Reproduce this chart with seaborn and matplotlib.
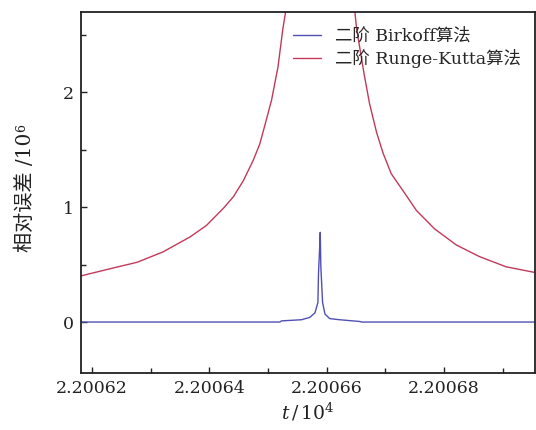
import numpy as np
import pandas as pd
import matplotlib
matplotlib.use('Agg')
import matplotlib.pyplot as plt
import seaborn as sns
from matplotlib.ticker import MultipleLocator

# %% 数据 (t / 10^4, 相对误差 / 10^6)
rk_t = [2.2006180, 2.2006236, 2.2006277, 2.2006321, 2.2006367, 2.2006395,
        2.2006424, 2.2006441, 2.2006458, 2.2006475, 2.2006486, 2.2006494,
        2.2006506, 2.2006517, 2.2006525, 2.2006530, 2.2006545, 2.2006590,
        2.2006636, 2.2006648, 2.2006651, 2.2006664, 2.2006673, 2.2006685,
        2.2006696, 2.2006710, 2.2006733, 2.2006753, 2.2006784, 2.2006821,
        2.2006860, 2.2006906, 2.2006956]
rk_err = [0.40, 0.47, 0.52, 0.61, 0.74, 0.84,
          0.99, 1.09, 1.23, 1.41, 1.55, 1.70,
          1.93, 2.22, 2.54, 2.70, 3.60, 8.00,
          3.60, 2.70, 2.55, 2.15, 1.90, 1.65,
          1.47, 1.29, 1.12, 0.97, 0.81, 0.67,
          0.57, 0.48, 0.43]

bk_t = [2.2006180, 2.2006520, 2.2006523, 2.2006557, 2.2006571, 2.2006580,
        2.2006585, 2.2006586, 2.2006588, 2.2006589, 2.2006590, 2.2006593,
        2.2006597, 2.2006605, 2.2006622, 2.2006656, 2.2006660, 2.2006956]
bk_err = [0.0, 0.0, 0.01, 0.02, 0.04, 0.08,
          0.17, 0.42, 0.65, 0.78, 0.48, 0.17,
          0.07, 0.03, 0.02, 0.005, 0.0, 0.0]

x_ticks = [2.20062, 2.20064, 2.20066, 2.20068]
x_ticklabels = ['2.20062', '2.20064', '2.20066', '2.20068']
y_ticks = [0, 1, 2]

labels = ['二阶 Birkoff算法', '二阶 Runge-Kutta算法']

# %% 样式
sns.set_style('ticks')
plt.rcParams['font.family'] = ['DejaVu Serif', 'Noto Sans CJK SC']
plt.rcParams['mathtext.fontset'] = 'dejavuserif'
plt.rcParams['axes.unicode_minus'] = False

df = pd.concat([
    pd.DataFrame({'t': bk_t, 'err': bk_err, 'method': labels[0]}),
    pd.DataFrame({'t': rk_t, 'err': rk_err, 'method': labels[1]}),
])

fig = plt.figure(figsize=(5.36, 4.30), dpi=100)
ax = fig.add_axes([0.151, 0.1326, 0.847, 0.8395])

sns.lineplot(data=df, x='t', y='err', hue='method', sort=False,
             palette=['#5050b4', '#c23a5a'], linewidth=1.0, ax=ax, estimator=None)

ax.set_xlim(2.2006181, 2.2006955)
ax.set_ylim(-0.443, 2.696)
ax.set_xticks(x_ticks)
ax.set_xticklabels(x_ticklabels)
ax.xaxis.set_minor_locator(MultipleLocator(0.00001))
ax.set_yticks(y_ticks)
ax.set_yticklabels([str(v) for v in y_ticks])
ax.yaxis.set_minor_locator(MultipleLocator(0.5))
ax.tick_params(which='both', direction='in', labelsize=12.5, width=1, colors='#222222')
ax.tick_params(which='major', length=4, pad=5)
ax.tick_params(which='minor', length=3.5)
for s in ax.spines.values():
    s.set_linewidth(1.3)
    s.set_color('#222222')

ax.set_xlabel('$t\\,/\\,10^4$', fontsize=13.5, labelpad=3, color='#222222')
ylab = ax.set_ylabel('相对误差 /10', fontsize=14.5, labelpad=20, color='#222222')

leg = ax.legend(loc='upper left', frameon=False, fontsize=12.5,
                handlelength=1.6, handletextpad=0.8, labelspacing=0.22,
                borderaxespad=0.0, bbox_to_anchor=(0.452, 0.975))
for h in leg.get_lines():
    h.set_linewidth(1.0)

# 上标 6
fig.canvas.draw()
bb = ylab.get_window_extent(fig.canvas.get_renderer())
fig.text(bb.x0 - 1, bb.y1 + 1, '6', rotation=90, fontsize=9, ha='left', va='bottom',
         color='#222222', transform=None)

fig.savefig('out.png', dpi=100)
